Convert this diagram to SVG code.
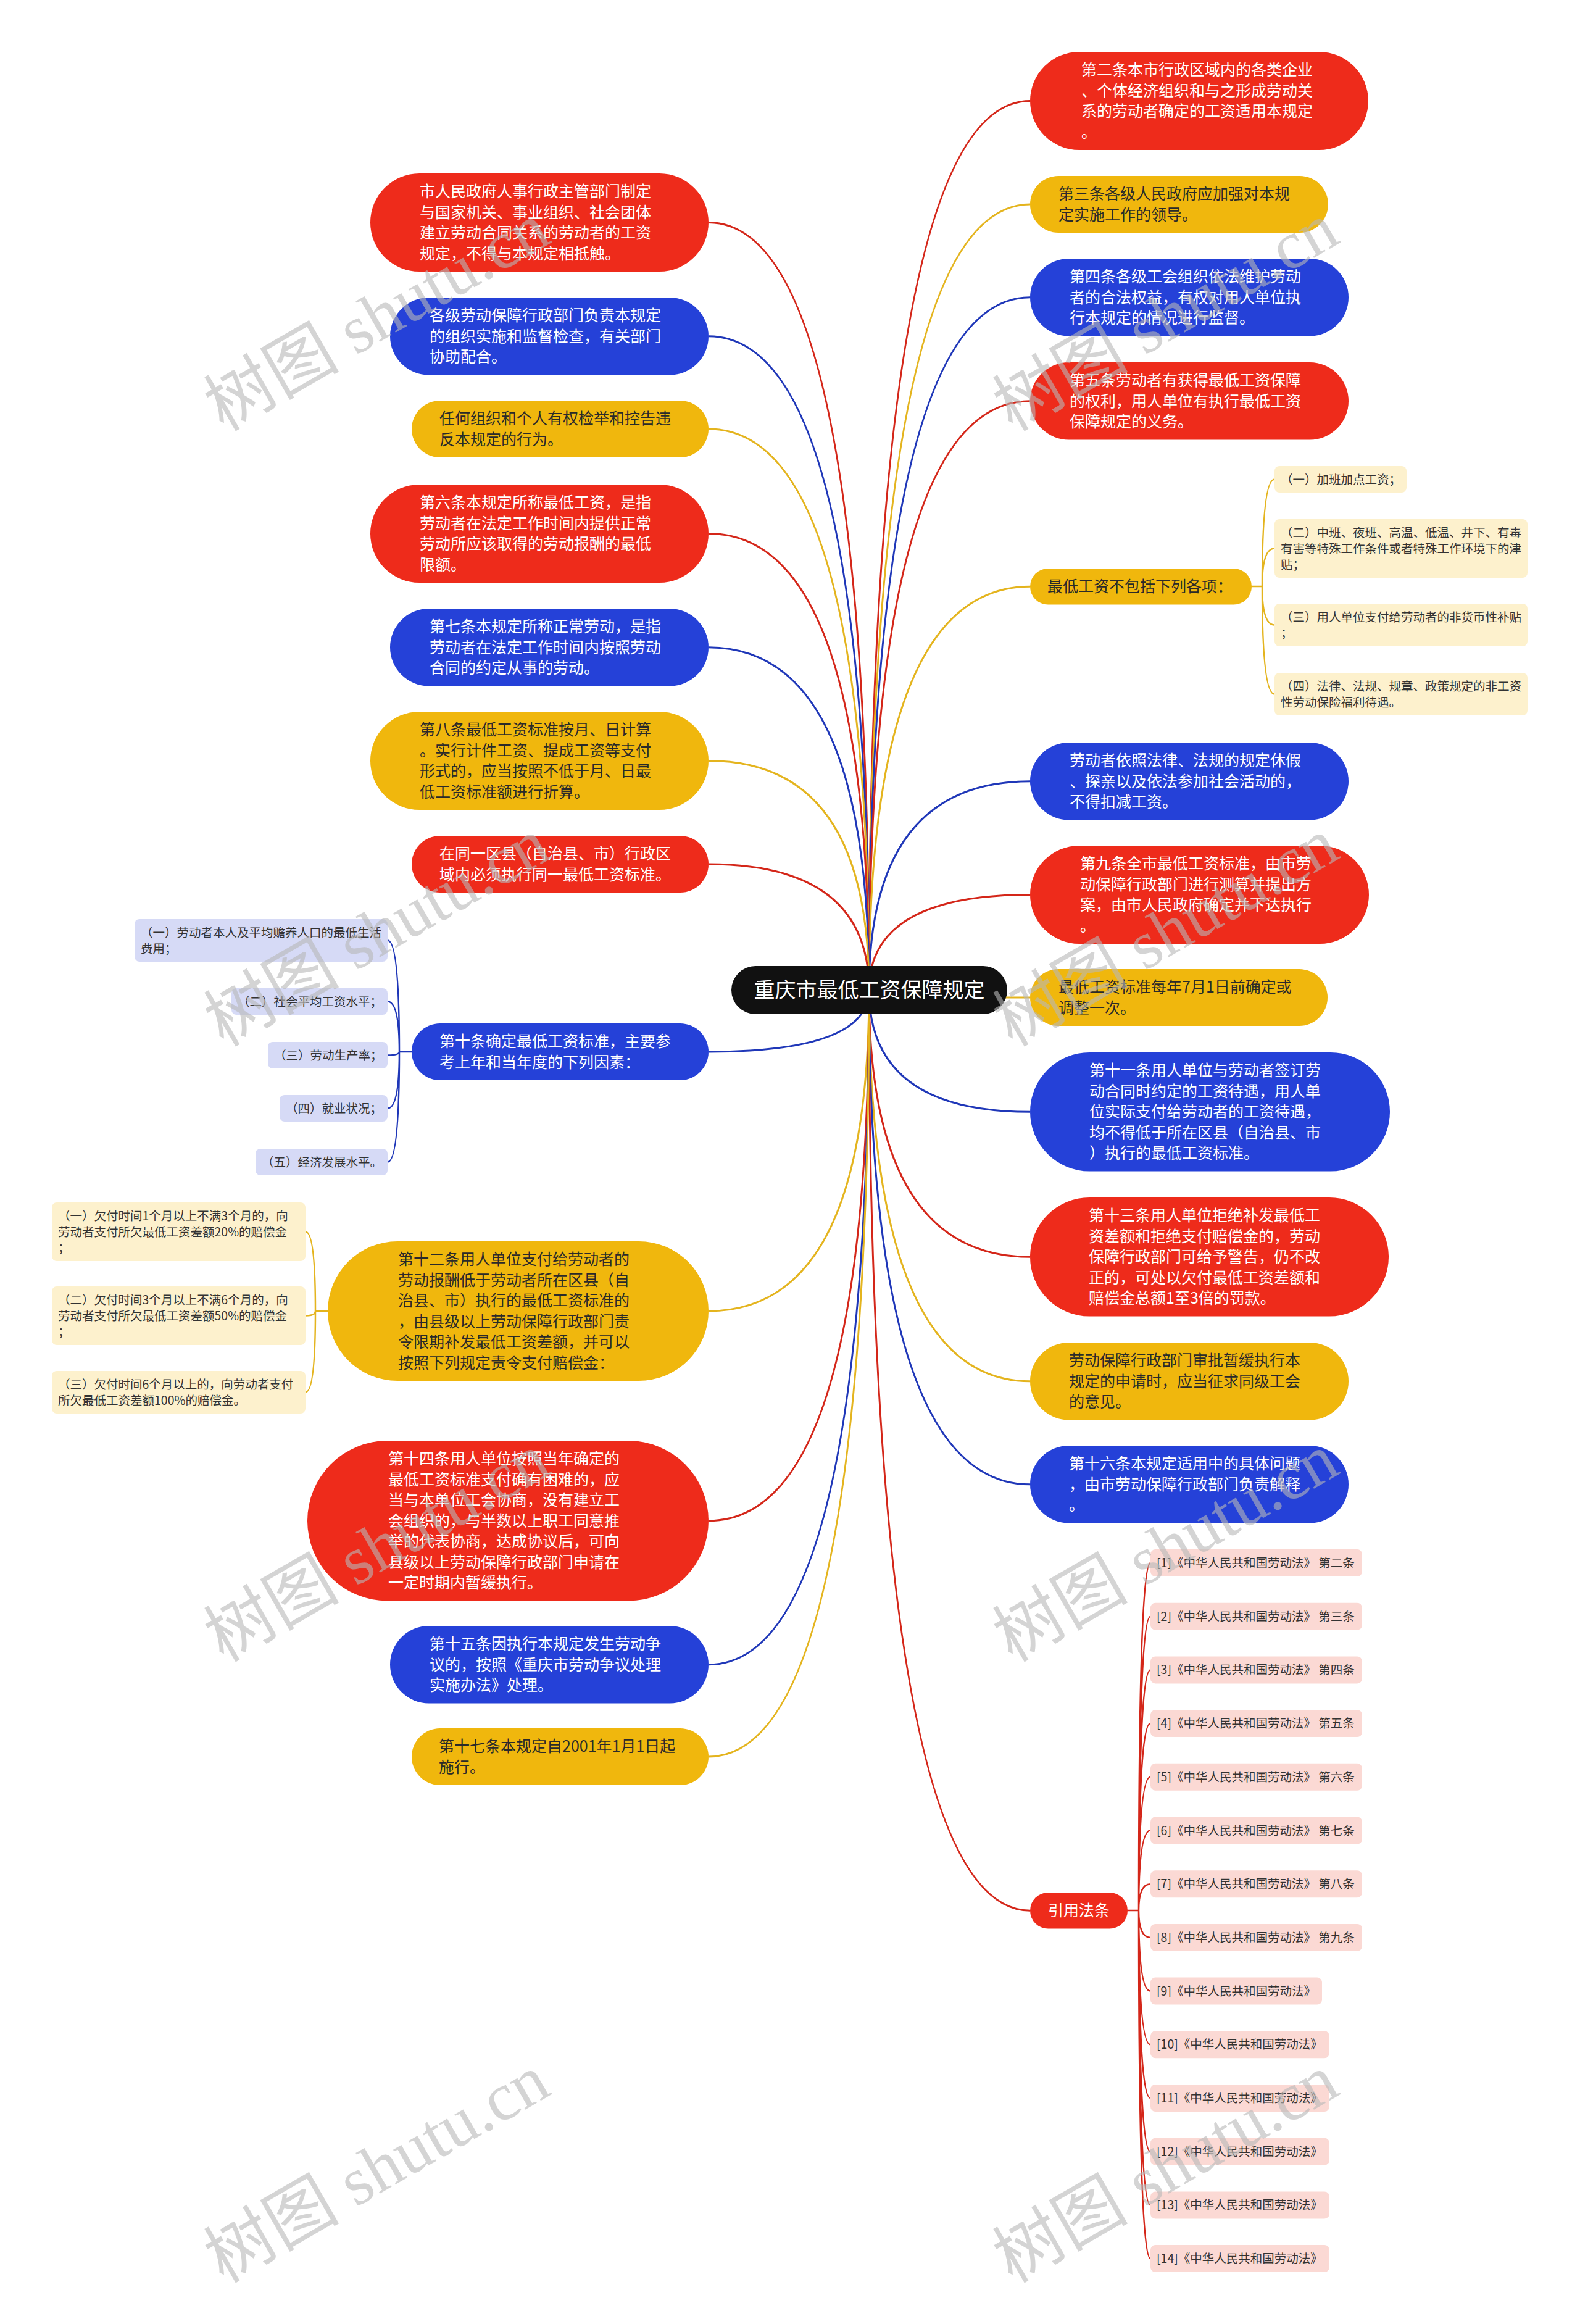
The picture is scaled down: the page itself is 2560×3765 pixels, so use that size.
<svg xmlns="http://www.w3.org/2000/svg" width="2560" height="3765" viewBox="0 0 2560 3765">
<style>
text{font-family:"Noto Sans CJK SC","Noto Sans",sans-serif}
.t{font-size:25px}
.w{fill:#fff}
.d{fill:#2a2a2a}
.s{font-size:19.5px;fill:#333}
.red{fill:#ee2b1b}
.blue{fill:#2541d8}
.yel{fill:#f0b70d}
.ly{fill:#fdf1cd}
.lb{fill:#d6daf6}
.pk{fill:#fbd9d4}
.c{fill:none;stroke-width:3}
.cs{fill:none;stroke-width:2.5}
.sr{stroke:#d42619}
.sb{stroke:#1f37b8}
.sy{stroke:#e4b41e}
.wm{font-family:"Liberation Serif","Noto Sans CJK SC",serif;font-size:110px;fill:#b8b8b8;opacity:.6}
</style>
<rect width="2560" height="3765" fill="#fff"/>
<g id="connectors">
<path class="c sr" d="M1408,1604 Q1408,163.5 1669,163.5"/>
<path class="c sy" d="M1408,1604 Q1408,331 1669,331"/>
<path class="c sb" d="M1408,1604 Q1408,481.75 1669,481.75"/>
<path class="c sr" d="M1408,1604 Q1408,649.75 1669,649.75"/>
<path class="c sy" d="M1408,1604 Q1408,950.25 1669,950.25"/>
<path class="c sb" d="M1408,1604 Q1408,1265.75 1669,1265.75"/>
<path class="c sr" d="M1408,1604 Q1408,1449.5 1669,1449.5"/>
<path class="c sy" d="M1408,1604 Q1408,1616 1669,1616"/>
<path class="c sb" d="M1408,1604 Q1408,1801.25 1669,1801.25"/>
<path class="c sr" d="M1408,1604 Q1408,2036.25 1669,2036.25"/>
<path class="c sy" d="M1408,1604 Q1408,2237.75 1669,2237.75"/>
<path class="c sb" d="M1408,1604 Q1408,2404.75 1669,2404.75"/>
<path class="c sr" d="M1408,1604 Q1408,3095.25 1669,3095.25"/>
<path class="c sr" d="M1408,1604 Q1408,360.5 1148,360.5"/>
<path class="c sb" d="M1408,1604 Q1408,544.75 1148,544.75"/>
<path class="c sy" d="M1408,1604 Q1408,695 1148,695"/>
<path class="c sr" d="M1408,1604 Q1408,864.5 1148,864.5"/>
<path class="c sb" d="M1408,1604 Q1408,1048.75 1148,1048.75"/>
<path class="c sy" d="M1408,1604 Q1408,1232.5 1148,1232.5"/>
<path class="c sr" d="M1408,1604 Q1408,1400 1148,1400"/>
<path class="c sb" d="M1408,1604 Q1408,1704 1148,1704"/>
<path class="c sy" d="M1408,1604 Q1408,2124 1148,2124"/>
<path class="c sr" d="M1408,1604 Q1408,2463.75 1148,2463.75"/>
<path class="c sb" d="M1408,1604 Q1408,2696.75 1148,2696.75"/>
<path class="c sy" d="M1408,1604 Q1408,2846 1148,2846"/>
<path class="cs sy" d="M2028,950 L2045,950 M2045,950 Q2045,776.5 2065,776.5 M2045,950 Q2045,888.5 2065,888.5 M2045,950 Q2045,1012.5 2065,1012.5 M2045,950 Q2045,1124.5 2065,1124.5"/>
<path class="cs sb" d="M667,1704 L647,1704 M647,1704 Q647,1523.5 628,1523.5 M647,1704 Q647,1622.5 628,1622.5 M647,1704 Q647,1709.5 628,1709.5 M647,1704 Q647,1795.5 628,1795.5 M647,1704 Q647,1882.5 628,1882.5"/>
<path class="cs sy" d="M531,2124 L511,2124 M511,2124 Q511,1995.5 495,1995.5 M511,2124 Q511,2131.5 495,2131.5 M511,2124 Q511,2255.5 495,2255.5"/>
<path class="cs sr" d="M1827,3095 L1845,3095 M1845,3095 Q1845,2532 1864,2532 M1845,3095 Q1845,2618.7 1864,2618.7 M1845,3095 Q1845,2705.4 1864,2705.4 M1845,3095 Q1845,2792.1 1864,2792.1 M1845,3095 Q1845,2878.8 1864,2878.8 M1845,3095 Q1845,2965.5 1864,2965.5 M1845,3095 Q1845,3052.2 1864,3052.2 M1845,3095 Q1845,3138.9 1864,3138.9 M1845,3095 Q1845,3225.6 1864,3225.6 M1845,3095 Q1845,3312.3 1864,3312.3 M1845,3095 Q1845,3399 1864,3399 M1845,3095 Q1845,3485.7 1864,3485.7 M1845,3095 Q1845,3572.4 1864,3572.4 M1845,3095 Q1845,3659.1 1864,3659.1"/>
</g>
<g id="root">
<rect x="1185" y="1565" width="447" height="78" rx="39" fill="#111"/>
<text x="1408.5" y="1616" text-anchor="middle" font-size="34" fill="#fff">重庆市最低工资保障规定</text>
</g>
<g id="r1"><rect class="red" x="1669" y="84" width="548" height="159" rx="79.5"/><text class="t w" x="1752"><tspan x="1752" y="122.25">第二条本市行政区域内的各类企业</tspan><tspan x="1752" y="155.75">、个体经济组织和与之形成劳动关</tspan><tspan x="1752" y="189.25">系的劳动者确定的工资适用本规定</tspan><tspan x="1752" y="222.75">。</tspan></text></g>
<g id="r2"><rect class="yel" x="1669" y="285" width="483" height="92" rx="46"/><text class="t d"><tspan x="1715" y="323.25">第三条各级人民政府应加强对本规</tspan><tspan x="1715" y="356.75">定实施工作的领导。</tspan></text></g>
<g id="r3"><rect class="blue" x="1669" y="419" width="516" height="125.5" rx="62.75"/><text class="t w"><tspan x="1733" y="457.25">第四条各级工会组织依法维护劳动</tspan><tspan x="1733" y="490.75">者的合法权益，有权对用人单位执</tspan><tspan x="1733" y="524.25">行本规定的情况进行监督。</tspan></text></g>
<g id="r4"><rect class="red" x="1669" y="587" width="516" height="125.5" rx="62.75"/><text class="t w"><tspan x="1733" y="625.25">第五条劳动者有获得最低工资保障</tspan><tspan x="1733" y="658.75">的权利，用人单位有执行最低工资</tspan><tspan x="1733" y="692.25">保障规定的义务。</tspan></text></g>
<g id="r5"><rect class="yel" x="1669" y="921" width="359" height="58.5" rx="29.25"/><text class="t d" x="1697" y="959.25">最低工资不包括下列各项：</text></g>
<g id="r5c1"><rect class="ly" x="2065" y="755" width="214" height="43" rx="8"/><text class="s" x="2075" y="783.5">（一）加班加点工资；</text></g>
<g id="r5c2"><rect class="ly" x="2065" y="841" width="410" height="95" rx="8"/><text class="s"><tspan x="2075" y="869.5">（二）中班、夜班、高温、低温、井下、有毒</tspan><tspan x="2075" y="895.5">有害等特殊工作条件或者特殊工作环境下的津</tspan><tspan x="2075" y="921.5">贴；</tspan></text></g>
<g id="r5c3"><rect class="ly" x="2065" y="978" width="410" height="69" rx="8"/><text class="s"><tspan x="2075" y="1006.5">（三）用人单位支付给劳动者的非货币性补贴</tspan><tspan x="2075" y="1032.5">；</tspan></text></g>
<g id="r5c4"><rect class="ly" x="2065" y="1090" width="410" height="69" rx="8"/><text class="s"><tspan x="2075" y="1118.5">（四）法律、法规、规章、政策规定的非工资</tspan><tspan x="2075" y="1144.5">性劳动保险福利待遇。</tspan></text></g>
<g id="r6"><rect class="blue" x="1669" y="1203" width="516" height="125.5" rx="62.75"/><text class="t w"><tspan x="1733" y="1241.25">劳动者依照法律、法规的规定休假</tspan><tspan x="1733" y="1274.75">、探亲以及依法参加社会活动的，</tspan><tspan x="1733" y="1308.25">不得扣减工资。</tspan></text></g>
<g id="r7"><rect class="red" x="1669" y="1370" width="549" height="159" rx="79.5"/><text class="t w"><tspan x="1750" y="1408.25">第九条全市最低工资标准，由市劳</tspan><tspan x="1750" y="1441.75">动保障行政部门进行测算并提出方</tspan><tspan x="1750" y="1475.25">案，由市人民政府确定并下达执行</tspan><tspan x="1750" y="1508.75">。</tspan></text></g>
<g id="r8"><rect class="yel" x="1669" y="1570" width="482" height="92" rx="46"/><text class="t d"><tspan x="1715" y="1608.25">最低工资标准每年7月1日前确定或</tspan><tspan x="1715" y="1641.75">调整一次。</tspan></text></g>
<g id="r9"><rect class="blue" x="1669" y="1705" width="583" height="192.5" rx="96.25"/><text class="t w"><tspan x="1765" y="1743.25">第十一条用人单位与劳动者签订劳</tspan><tspan x="1765" y="1776.75">动合同时约定的工资待遇，用人单</tspan><tspan x="1765" y="1810.25">位实际支付给劳动者的工资待遇，</tspan><tspan x="1765" y="1843.75">均不得低于所在区县（自治县、市</tspan><tspan x="1765" y="1877.25">）执行的最低工资标准。</tspan></text></g>
<g id="r10"><rect class="red" x="1669" y="1940" width="581" height="192.5" rx="96.25"/><text class="t w"><tspan x="1764" y="1978.25">第十三条用人单位拒绝补发最低工</tspan><tspan x="1764" y="2011.75">资差额和拒绝支付赔偿金的，劳动</tspan><tspan x="1764" y="2045.25">保障行政部门可给予警告，仍不改</tspan><tspan x="1764" y="2078.75">正的，可处以欠付最低工资差额和</tspan><tspan x="1764" y="2112.25">赔偿金总额1至3倍的罚款。</tspan></text></g>
<g id="r11"><rect class="yel" x="1669" y="2175" width="516" height="125.5" rx="62.75"/><text class="t d"><tspan x="1732" y="2213.25">劳动保障行政部门审批暂缓执行本</tspan><tspan x="1732" y="2246.75">规定的申请时，应当征求同级工会</tspan><tspan x="1732" y="2280.25">的意见。</tspan></text></g>
<g id="r12"><rect class="blue" x="1669" y="2342" width="516" height="125.5" rx="62.75"/><text class="t w"><tspan x="1732" y="2380.25">第十六条本规定适用中的具体问题</tspan><tspan x="1732" y="2413.75">，由市劳动保障行政部门负责解释</tspan><tspan x="1732" y="2447.25">。</tspan></text></g>
<g id="r13"><rect class="red" x="1669" y="3066" width="158" height="58.5" rx="29.25"/><text class="t w" x="1698" y="3104.25">引用法条</text></g>
<g id="cite1"><rect class="pk" x="1864" y="2510" width="343" height="44" rx="8"/><text class="s" x="1874" y="2539">[1]《中华人民共和国劳动法》 第二条</text></g>
<g id="cite2"><rect class="pk" x="1864" y="2596.7" width="343" height="44" rx="8"/><text class="s" x="1874" y="2625.7">[2]《中华人民共和国劳动法》 第三条</text></g>
<g id="cite3"><rect class="pk" x="1864" y="2683.4" width="343" height="44" rx="8"/><text class="s" x="1874" y="2712.4">[3]《中华人民共和国劳动法》 第四条</text></g>
<g id="cite4"><rect class="pk" x="1864" y="2770.1" width="343" height="44" rx="8"/><text class="s" x="1874" y="2799.1">[4]《中华人民共和国劳动法》 第五条</text></g>
<g id="cite5"><rect class="pk" x="1864" y="2856.8" width="343" height="44" rx="8"/><text class="s" x="1874" y="2885.8">[5]《中华人民共和国劳动法》 第六条</text></g>
<g id="cite6"><rect class="pk" x="1864" y="2943.5" width="343" height="44" rx="8"/><text class="s" x="1874" y="2972.5">[6]《中华人民共和国劳动法》 第七条</text></g>
<g id="cite7"><rect class="pk" x="1864" y="3030.2" width="343" height="44" rx="8"/><text class="s" x="1874" y="3059.2">[7]《中华人民共和国劳动法》 第八条</text></g>
<g id="cite8"><rect class="pk" x="1864" y="3116.9" width="343" height="44" rx="8"/><text class="s" x="1874" y="3145.9">[8]《中华人民共和国劳动法》 第九条</text></g>
<g id="cite9"><rect class="pk" x="1864" y="3203.6" width="278" height="44" rx="8"/><text class="s" x="1874" y="3232.6">[9]《中华人民共和国劳动法》</text></g>
<g id="cite10"><rect class="pk" x="1864" y="3290.3" width="290" height="44" rx="8"/><text class="s" x="1874" y="3319.3">[10]《中华人民共和国劳动法》</text></g>
<g id="cite11"><rect class="pk" x="1864" y="3377" width="290" height="44" rx="8"/><text class="s" x="1874" y="3406">[11]《中华人民共和国劳动法》</text></g>
<g id="cite12"><rect class="pk" x="1864" y="3463.7" width="290" height="44" rx="8"/><text class="s" x="1874" y="3492.7">[12]《中华人民共和国劳动法》</text></g>
<g id="cite13"><rect class="pk" x="1864" y="3550.4" width="290" height="44" rx="8"/><text class="s" x="1874" y="3579.4">[13]《中华人民共和国劳动法》</text></g>
<g id="cite14"><rect class="pk" x="1864" y="3637.1" width="290" height="44" rx="8"/><text class="s" x="1874" y="3666.1">[14]《中华人民共和国劳动法》</text></g>
<g id="l1"><rect class="red" x="600" y="281" width="548" height="159" rx="79.5"/><text class="t w"><tspan x="680" y="319.25">市人民政府人事行政主管部门制定</tspan><tspan x="680" y="352.75">与国家机关、事业组织、社会团体</tspan><tspan x="680" y="386.25">建立劳动合同关系的劳动者的工资</tspan><tspan x="680" y="419.75">规定，不得与本规定相抵触。</tspan></text></g>
<g id="l2"><rect class="blue" x="632" y="482" width="516" height="125.5" rx="62.75"/><text class="t w"><tspan x="696" y="520.25">各级劳动保障行政部门负责本规定</tspan><tspan x="696" y="553.75">的组织实施和监督检查，有关部门</tspan><tspan x="696" y="587.25">协助配合。</tspan></text></g>
<g id="l3"><rect class="yel" x="667" y="649" width="481" height="92" rx="46"/><text class="t d"><tspan x="712" y="687.25">任何组织和个人有权检举和控告违</tspan><tspan x="712" y="720.75">反本规定的行为。</tspan></text></g>
<g id="l4"><rect class="red" x="600" y="785" width="548" height="159" rx="79.5"/><text class="t w"><tspan x="680" y="823.25">第六条本规定所称最低工资，是指</tspan><tspan x="680" y="856.75">劳动者在法定工作时间内提供正常</tspan><tspan x="680" y="890.25">劳动所应该取得的劳动报酬的最低</tspan><tspan x="680" y="923.75">限额。</tspan></text></g>
<g id="l5"><rect class="blue" x="632" y="986" width="516" height="125.5" rx="62.75"/><text class="t w"><tspan x="696" y="1024.25">第七条本规定所称正常劳动，是指</tspan><tspan x="696" y="1057.75">劳动者在法定工作时间内按照劳动</tspan><tspan x="696" y="1091.25">合同的约定从事的劳动。</tspan></text></g>
<g id="l6"><rect class="yel" x="600" y="1153" width="548" height="159" rx="79.5"/><text class="t d"><tspan x="680" y="1191.25">第八条最低工资标准按月、日计算</tspan><tspan x="680" y="1224.75">。实行计件工资、提成工资等支付</tspan><tspan x="680" y="1258.25">形式的，应当按照不低于月、日最</tspan><tspan x="680" y="1291.75">低工资标准额进行折算。</tspan></text></g>
<g id="l7"><rect class="red" x="667" y="1354" width="481" height="92" rx="46"/><text class="t w"><tspan x="712" y="1392.25">在同一区县（自治县、市）行政区</tspan><tspan x="712" y="1425.75">域内必须执行同一最低工资标准。</tspan></text></g>
<g id="l8"><rect class="blue" x="667" y="1658" width="481" height="92" rx="46"/><text class="t w"><tspan x="712" y="1696.25">第十条确定最低工资标准，主要参</tspan><tspan x="712" y="1729.75">考上年和当年度的下列因素：</tspan></text></g>
<g id="l8c1"><rect class="lb" x="218" y="1489" width="410" height="69" rx="8"/><text class="s"><tspan x="228" y="1517.5">（一）劳动者本人及平均赡养人口的最低生活</tspan><tspan x="228" y="1543.5">费用；</tspan></text></g>
<g id="l8c2"><rect class="lb" x="375" y="1601" width="253" height="43" rx="8"/><text class="s" x="385" y="1629.5">（二）社会平均工资水平；</text></g>
<g id="l8c3"><rect class="lb" x="434" y="1688" width="194" height="43" rx="8"/><text class="s" x="444" y="1716.5">（三）劳动生产率；</text></g>
<g id="l8c4"><rect class="lb" x="453" y="1774" width="175" height="43" rx="8"/><text class="s" x="463" y="1802.5">（四）就业状况；</text></g>
<g id="l8c5"><rect class="lb" x="414" y="1861" width="214" height="43" rx="8"/><text class="s" x="424" y="1889.5">（五）经济发展水平。</text></g>
<g id="l9"><rect class="yel" x="531" y="2011" width="617" height="226" rx="113"/><text class="t d"><tspan x="645" y="2049.25">第十二条用人单位支付给劳动者的</tspan><tspan x="645" y="2082.75">劳动报酬低于劳动者所在区县（自</tspan><tspan x="645" y="2116.25">治县、市）执行的最低工资标准的</tspan><tspan x="645" y="2149.75">，由县级以上劳动保障行政部门责</tspan><tspan x="645" y="2183.25">令限期补发最低工资差额，并可以</tspan><tspan x="645" y="2216.75">按照下列规定责令支付赔偿金：</tspan></text></g>
<g id="l9c1"><rect class="ly" x="84" y="1948" width="411" height="95" rx="8"/><text class="s"><tspan x="94" y="1976.5">（一）欠付时间1个月以上不满3个月的，向</tspan><tspan x="94" y="2002.5">劳动者支付所欠最低工资差额20%的赔偿金</tspan><tspan x="94" y="2028.5">；</tspan></text></g>
<g id="l9c2"><rect class="ly" x="84" y="2084" width="411" height="95" rx="8"/><text class="s"><tspan x="94" y="2112.5">（二）欠付时间3个月以上不满6个月的，向</tspan><tspan x="94" y="2138.5">劳动者支付所欠最低工资差额50%的赔偿金</tspan><tspan x="94" y="2164.5">；</tspan></text></g>
<g id="l9c3"><rect class="ly" x="84" y="2221" width="411" height="69" rx="8"/><text class="s"><tspan x="94" y="2249.5">（三）欠付时间6个月以上的，向劳动者支付</tspan><tspan x="94" y="2275.5">所欠最低工资差额100%的赔偿金。</tspan></text></g>
<g id="l10"><rect class="red" x="498" y="2334" width="650" height="259.5" rx="129.75"/><text class="t w"><tspan x="629" y="2372.25">第十四条用人单位按照当年确定的</tspan><tspan x="629" y="2405.75">最低工资标准支付确有困难的，应</tspan><tspan x="629" y="2439.25">当与本单位工会协商，没有建立工</tspan><tspan x="629" y="2472.75">会组织的，与半数以上职工同意推</tspan><tspan x="629" y="2506.25">举的代表协商，达成协议后，可向</tspan><tspan x="629" y="2539.75">县级以上劳动保障行政部门申请在</tspan><tspan x="629" y="2573.25">一定时期内暂缓执行。</tspan></text></g>
<g id="l11"><rect class="blue" x="632" y="2634" width="516" height="125.5" rx="62.75"/><text class="t w"><tspan x="696" y="2672.25">第十五条因执行本规定发生劳动争</tspan><tspan x="696" y="2705.75">议的，按照《重庆市劳动争议处理</tspan><tspan x="696" y="2739.25">实施办法》处理。</tspan></text></g>
<g id="l12"><rect class="yel" x="667" y="2800" width="481" height="92" rx="46"/><text class="t d"><tspan x="711" y="2838.25">第十七条本规定自2001年1月1日起</tspan><tspan x="711" y="2871.75">施行。</tspan></text></g>
<g id="watermarks">
<text class="wm" transform="translate(362,700) rotate(-30)">树图 shutu.cn</text>
<text class="wm" transform="translate(1640,700) rotate(-30)">树图 shutu.cn</text>
<text class="wm" transform="translate(362,1697) rotate(-30)">树图 shutu.cn</text>
<text class="wm" transform="translate(1640,1697) rotate(-30)">树图 shutu.cn</text>
<text class="wm" transform="translate(362,2694) rotate(-30)">树图 shutu.cn</text>
<text class="wm" transform="translate(1640,2694) rotate(-30)">树图 shutu.cn</text>
<text class="wm" transform="translate(362,3700) rotate(-30)">树图 shutu.cn</text>
<text class="wm" transform="translate(1640,3700) rotate(-30)">树图 shutu.cn</text>
</g>
</svg>
